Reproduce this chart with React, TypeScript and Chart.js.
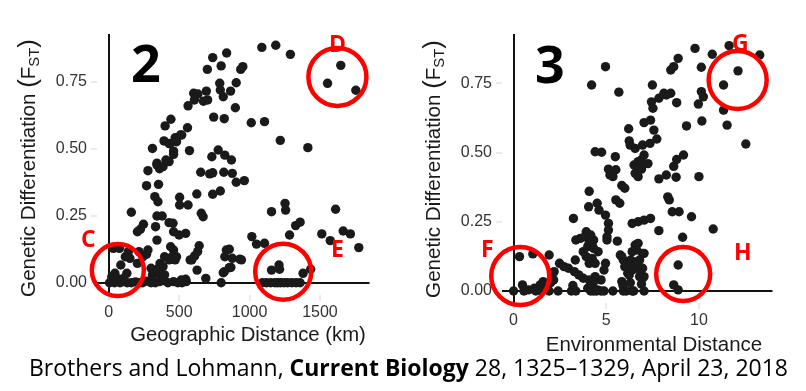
import React, { useEffect, useLayoutEffect, useRef } from "react";
import { Chart, registerables } from "chart.js";

Chart.register(...registerables);

// ---------- DATA ----------
// Panel 2: Geographic distance (km) vs Genetic differentiation (FST)
const geoDistance = [
  1087, 1186, 1290, 1648, 1554, 1755, 837, 738, 798, 700, 952, 937,
  788, 905, 792, 865, 813, 693, 603, 633, 608, 672, 702, 563,
  899, 745, 820, 1012, 1106, 441, 400, 559, 509, 471, 392, 434,
  460, 310, 573, 1218, 1414, 777, 732, 824, 871, 342, 406, 428,
  481, 518, 460,
  278, 342, 385, 428, 360, 653, 717, 738, 817, 877, 905, 963,
  268, 353, 327, 349, 503, 625, 738, 792, 503, 563, 160, 342,
  379, 657, 670, 428, 456, 246, 225, 203, 332, 460, 499, 546,
  342, 1156, 1252, 1256, 1611, 1016, 1049, 1106, 1284, 1327, 1359, 1513,
  1573, 1665, 1716, 1776,
  642, 631, 610, 589, 856, 824, 877, 931, 856, 813, 627, 689,
  798, 514, 546, 268, 242, 203, 300, 85, 117, 139, 150, 43,
  21, 128, 32, 75, 1156, 1209, 1213, 1380, 1434,
  1091, 1120, 1150, 1180, 1200, 1220, 1245, 1270, 1300, 1330, 1359,
  5, 20, 40, 60, 80, 100, 130, 160, 190, 220, 240, 270, 300, 330, 360, 390, 420, 460, 490, 520, 550,
  439, 460, 449, 428, 396, 364, 385, 353, 332, 310, 364, 396, 278, 214, 471, 481,
  820, 867, 835, 942, 578, 50, 100,
];
const geoFst = [
  0.878, 0.886, 0.852, 0.811, 0.744, 0.718, 0.857, 0.84, 0.809, 0.796, 0.806, 0.796,
  0.744, 0.746, 0.719, 0.715, 0.694, 0.715, 0.707, 0.704, 0.682, 0.677, 0.682, 0.66,
  0.653, 0.618, 0.612, 0.597, 0.601, 0.61, 0.585, 0.578, 0.551, 0.541, 0.529, 0.518,
  0.491, 0.501, 0.493, 0.531, 0.504, 0.495, 0.47, 0.476, 0.458, 0.446, 0.458, 0.52,
  0.526, 0.551, 0.479,
  0.418, 0.439, 0.433, 0.452, 0.425, 0.412, 0.406, 0.41, 0.412, 0.408, 0.375, 0.381,
  0.362, 0.367, 0.321, 0.302, 0.319, 0.331, 0.33, 0.342, 0.29, 0.29, 0.263, 0.249,
  0.249, 0.259, 0.246, 0.224, 0.222, 0.218, 0.2, 0.19, 0.209, 0.19, 0.178, 0.184,
  0.159, 0.265, 0.296, 0.271, 0.274, 0.172, 0.144, 0.147, 0.178, 0.213, 0.226, 0.182,
  0.157, 0.193, 0.182, 0.131,
  0.138, 0.116, 0.1, 0.085, 0.125, 0.097, 0.091, 0.088, 0.056, 0.037, 0.047, 0.016,
  0.0, 0.01, 0.013, 0.106, 0.097, 0.072, 0.054, 0.066, 0.097, 0.116, 0.091, 0.035,
  0.022, 0.035, 0.128, 0.128, 0.047, 0.066, 0.05, 0.035, 0.05,
  0, 0, 0, 0, 0, 0, 0, 0, 0, 0, 0,
  0, 0.005, 0, 0.008, 0, 0.004, 0, 0, 0.003, 0, 0, 0.006, 0, 0, 0.004, 0.008, 0, 0.004, 0, 0, 0.004,
  0.134, 0.122, 0.097, 0.085, 0.097, 0.072, 0.06, 0.054, 0.041, 0.029, 0.029, 0.029, 0.122, 0.116, 0.085, 0.097,
  0.041, 0.057, 0.122, 0.085, 0.085, 0.02, 0.015,
];

// Panel 3: Environmental distance vs Genetic differentiation (FST)
const envDistance = [
  4.96, 4.21, 5.68, 8.88, 8.64, 8.48, 9.79, 10.13, 10.72, 11.63, 13.28, 12.11,
  11.33, 10.13, 10.24, 9.97, 11.33, 10.16, 11.52, 9.33, 12.53, 7.49, 8.11, 7.84,
  8.48, 8.24, 7.44, 7.52, 8.8, 7.04, 7.39, 6.21, 7.57, 7.73, 7.36, 6.96,
  6.24, 6.29, 6.56, 4.4, 4.75, 5.49, 7.04, 6.88, 6.72, 8.8, 9.17,
  5.12, 5.52, 5.2, 5.36, 6.5, 6.8, 7.0, 7.25, 6.56, 6.72, 6.9, 7.84,
  8.24, 8.64, 8.77, 10.0, 4.08, 5.84, 6.0, 5.52, 5.73, 8.32, 8.4, 4.51,
  4.61, 4.05, 8.56, 8.93, 9.6, 4.96, 5.12, 3.23, 6.4, 6.72, 7.04, 7.39,
  7.84, 9.12, 10.77, 5.12, 3.92, 4.16, 4.32, 4.24, 4.0, 4.08, 4.32, 3.36,
  3.6, 3.84, 4.24, 5.04, 5.04, 5.6, 6.56, 6.64, 6.4, 6.96,
  5.76, 5.92, 6.24, 6.56, 6.8, 6.64, 6.4, 6.24, 6.88, 6.96, 6.08, 5.84,
  7.04, 6.32, 6.64, 6.96, 6.8, 7.04, 6.72, 5.84, 6.0, 6.16,
  4.96, 4.88, 4.72, 4.4, 4.08, 4.24, 4.53, 3.76, 3.92, 4.08, 4.4, 4.56,
  3.33, 2.48, 2.72, 2.96, 3.28, 3.52, 3.76, 2.13, 1.92, 1.04, 0.32, 0.48,
  0.8, 1.12, 1.44, 1.6, 0.0, 2.19, 2.16,
  0.56, 1.2, 1.52, 1.92, 2.4, 3.12, 3.36, 4.16, 4.32, 4.48, 4.72, 4.88,
  5.36, 5.92, 6.08, 6.4, 6.48, 7.04, 8.64, 8.88, 8.88,
  1.6, 2.0, 3.2, 4.0, 4.3, 5.9, 6.3, 6.9,
];
const envFst = [
  0.81, 0.744, 0.718, 0.84, 0.81, 0.798, 0.876, 0.808, 0.855, 0.886, 0.852, 0.795,
  0.744, 0.72, 0.701, 0.675, 0.653, 0.614, 0.599, 0.596, 0.531, 0.744, 0.714, 0.696,
  0.714, 0.708, 0.683, 0.66, 0.68, 0.608, 0.617, 0.586, 0.581, 0.549, 0.533, 0.527,
  0.542, 0.527, 0.515, 0.503, 0.501, 0.485, 0.491, 0.473, 0.467, 0.475, 0.491,
  0.44, 0.438, 0.419, 0.413, 0.455, 0.465, 0.458, 0.46, 0.425, 0.413, 0.44, 0.405,
  0.419, 0.45, 0.411, 0.413, 0.36, 0.381, 0.371, 0.329, 0.317, 0.34, 0.329, 0.317,
  0.292, 0.304, 0.286, 0.286, 0.268, 0.274, 0.244, 0.262, 0.244, 0.25, 0.256, 0.262,
  0.218, 0.194, 0.224, 0.22, 0.214, 0.202, 0.184, 0.166, 0.16, 0.172, 0.154, 0.184,
  0.19, 0.196, 0.118, 0.196, 0.184, 0.18, 0.166, 0.148, 0.142, 0.136,
  0.13, 0.112, 0.1, 0.094, 0.112, 0.082, 0.076, 0.058, 0.058, 0.046, 0.088, 0.034,
  0.136, 0.112, 0.106, 0.082, 0.052, 0.052, 0.172, 0.124, 0.088, 0.064,
  0.1, 0.076, 0.04, 0.052, 0.04, 0.004, 0.004, 0.142, 0.124, 0.1, 0.1, 0.142,
  0.112, 0.1, 0.088, 0.082, 0.07, 0.058, 0.046, 0.066, 0.13, 0.134, 0.124, 0.022,
  0.004, 0.01, 0.022, 0.034, 0.0, 0.07, 0.04,
  0, 0, 0, 0, 0, 0, 0, 0, 0, 0, 0, 0,
  0, 0, 0, 0, 0, 0, 0.022, 0.004, 0.094,
  0.012, 0.03, 0.02, 0.01, 0.03, 0.02, 0.03, 0.025,
];

// Highlighted groups (circle centres) and their labels
const geoCircleLabels = ["C", "D", "E"];
const geoCircleX = [64, 1624, 1239];
const geoCircleY = [0.047, 0.768, 0.041];
const envCircleLabels = ["F", "G", "H"];
const envCircleX = [0.36, 12.09, 9.15];
const envCircleY = [0.054, 0.762, 0.061];

// Tick values
const fstTicks = [0, 0.25, 0.5, 0.75];
const geoTicks = [0, 500, 1000, 1500];
const envTicks = [0, 5, 10];

const panelNumbers = ["2", "3"];
const yTitleParts = ["Genetic Differentiation ", "(", "F", "ST", ")"];
const geoXTitle = "Geographic Distance (km)";
const envXTitle = "Environmental Distance";

// ---------- STYLE ----------
const SANS = "'Liberation Sans', Arial, Helvetica, sans-serif";
const tickFont = { family: SANS, size: 16 };
const TICK_COLOR = "#333333";

const overlayPlugin = {
  id: "overlay",
  afterDraw(chart: any, _args: any, o: any) {
    const ctx = chart.ctx;
    ctx.save();
    ctx.textBaseline = "alphabetic";
    // panel number
    ctx.textAlign = "left";
    ctx.fillStyle = "#000";
    ctx.font = "700 52px 'Open Sans', 'DejaVu Sans', sans-serif";
    ctx.fillText(o.big, o.bigX, o.bigY);
    // group letters
    ctx.fillStyle = "#ff0000";
    ctx.font = "700 23px 'Open Sans', 'DejaVu Sans', sans-serif";
    o.letters.forEach((l: any, i: number) => ctx.fillText(o.letterText[i], l[0], l[1]));
    // x title
    ctx.fillStyle = "#1a1a1a";
    ctx.textAlign = "center";
    ctx.font = `${o.xTitleSize}px ${SANS}`;
    ctx.fillText(o.xTitle, o.xTitleX, o.xTitleY);
    // y title (rotated, with subscript)
    ctx.textAlign = "left";
    const parts = [
      { t: yTitleParts[0], s: o.yTitleSize, dy: 0 },
      { t: yTitleParts[1], s: o.yTitleSize * 1.25, dy: 1 },
      { t: yTitleParts[2], s: o.yTitleSize, dy: 0 },
      { t: yTitleParts[3], s: o.yTitleSize * 0.72, dy: 4 },
      { t: yTitleParts[4], s: o.yTitleSize * 1.25, dy: 1 },
    ];
    let total = 0;
    const widths = parts.map((p) => {
      ctx.font = `${p.s}px ${SANS}`;
      const w = ctx.measureText(p.t).width;
      total += w;
      return w;
    });
    ctx.translate(o.yTitleX, o.yTitleY);
    ctx.rotate(-Math.PI / 2);
    let x = -total / 2;
    parts.forEach((p, i) => {
      ctx.font = `${p.s}px ${SANS}`;
      ctx.fillText(p.t, x, p.dy);
      x += widths[i];
    });
    ctx.restore();
  },
};

function zeroGrid(tickLen: number) {
  return {
    color: (c: any) => (c.tick && c.tick.value === 0 ? "#111111" : "rgba(0,0,0,0)"),
    lineWidth: 2,
    tickLength: tickLen,
    tickColor: "#d6d6d6",
    tickWidth: 1,
  };
}

function makeConfig(p: any) {
  return {
    type: "scatter",
    data: {
      datasets: [
        {
          label: "groups",
          data: p.cx.map((v: number, i: number) => ({ x: v, y: p.cy[i] })),
          pointRadius: p.circleRadius,
          pointBorderWidth: 4.5,
          borderColor: "#ff0000",
          backgroundColor: "rgba(0,0,0,0)",
          pointBackgroundColor: "rgba(0,0,0,0)",
          pointBorderColor: "#ff0000",
          clip: false,
          order: 0,
        },
        {
          label: "pairs",
          data: p.xs.map((v: number, i: number) => ({ x: v, y: p.ys[i] })),
          pointRadius: 4.7,
          pointBorderWidth: 0,
          pointBackgroundColor: "#1a1a1a",
          backgroundColor: "#1a1a1a",
          order: 1,
        },
      ],
    },
    options: {
      responsive: false,
      maintainAspectRatio: false,
      animation: false,
      devicePixelRatio: 1,
      events: [],
      layout: { padding: { top: 34, right: p.padRight, left: 0, bottom: 0 } },
      plugins: {
        legend: { display: false },
        tooltip: { enabled: false },
        overlay: p.overlay,
      },
      scales: {
        x: {
          type: "linear",
          min: p.xMin,
          max: p.xMax,
          afterBuildTicks: (s: any) => {
            s.ticks = p.xTicks.map((v: number) => ({ value: v }));
          },
          afterFit: (s: any) => {
            s.height = p.xAxisHeight;
          },
          grid: zeroGrid(6),
          border: { display: false },
          ticks: {
            color: TICK_COLOR,
            font: tickFont,
            padding: 2,
            maxRotation: 0,
            autoSkip: false,
            callback: (v: any) => String(v),
          },
        },
        y: {
          type: "linear",
          min: p.yMin,
          max: p.yMax,
          afterBuildTicks: (s: any) => {
            s.ticks = fstTicks.map((v: number) => ({ value: v }));
          },
          afterFit: (s: any) => {
            s.width = p.yAxisWidth;
          },
          grid: zeroGrid(6),
          border: { display: false },
          ticks: {
            color: TICK_COLOR,
            font: tickFont,
            padding: 4,
            autoSkip: false,
            callback: (v: any) => Number(v).toFixed(2),
          },
        },
      },
    },
    plugins: [overlayPlugin],
  };
}

export default function App() {
  const leftRef = useRef<HTMLCanvasElement>(null);
  const rightRef = useRef<HTMLCanvasElement>(null);
  const capRef = useRef<HTMLSpanElement>(null);

  useLayoutEffect(() => {
    const el = capRef.current;
    if (el) {
      el.style.transform = "none";
      const w = el.getBoundingClientRect().width;
      if (w > 0) el.style.transform = `scaleX(${759 / w})`;
    }
  }, []);

  useEffect(() => {
    const left = new Chart(
      leftRef.current as HTMLCanvasElement,
      makeConfig({
        xs: geoDistance,
        ys: geoFst,
        cx: geoCircleX,
        cy: geoCircleY,
        circleRadius: [26, 29, 28],
        xMin: -84,
        xMax: 1852,
        yMin: -0.0459,
        yMax: 0.928,
        xTicks: geoTicks,
        padRight: 5,
        xAxisHeight: 65,
        yAxisWidth: 97,
        overlay: {
          big: panelNumbers[0],
          bigX: 131,
          bigY: 82,
          letterText: geoCircleLabels,
          letters: [
            [81, 247],
            [329, 52],
            [331, 257],
          ],
          xTitle: geoXTitle,
          xTitleX: 248,
          xTitleY: 341,
          xTitleSize: 20.3,
          yTitleX: 35,
          yTitleY: 168,
          yTitleSize: 20.6,
        },
      }) as any
    );
    const right = new Chart(
      rightRef.current as HTMLCanvasElement,
      makeConfig({
        xs: envDistance,
        ys: envFst,
        cx: envCircleX,
        cy: envCircleY,
        circleRadius: [29, 29, 27],
        xMin: -0.624,
        xMax: 13.97,
        yMin: -0.0433,
        yMax: 0.928,
        xTicks: envTicks,
        padRight: 0,
        xAxisHeight: 57,
        yAxisWidth: 99,
        overlay: {
          big: panelNumbers[1],
          bigX: 535 - 403,
          bigY: 83,
          letterText: envCircleLabels,
          letters: [
            [481 - 403, 257],
            [732 - 403, 51],
            [734 - 403, 260],
          ],
          xTitle: envXTitle,
          xTitleX: 654 - 403,
          xTitleY: 351,
          xTitleSize: 20.5,
          yTitleX: 440 - 403,
          yTitleY: 169,
          yTitleSize: 20.6,
        },
      }) as any
    );
    return () => {
      left.destroy();
      right.destroy();
    };
  }, []);

  return (
    <div
      style={{
        position: "fixed",
        left: 0,
        top: 0,
        width: 806,
        height: 391,
        background: "#ffffff",
        overflow: "hidden",
      }}
    >
      <canvas
        ref={leftRef}
        width={403}
        height={360}
        style={{ position: "absolute", left: 0, top: 0, width: 403, height: 360 }}
      />
      <canvas
        ref={rightRef}
        width={403}
        height={360}
        style={{ position: "absolute", left: 403, top: 0, width: 403, height: 360 }}
      />
      <div style={{ position: "absolute", left: 29, top: 356, whiteSpace: "nowrap" }}>
        <span
          ref={capRef}
          style={{
            display: "inline-block",
            transformOrigin: "0 0",
            fontFamily: "'Open Sans', 'Noto Sans', sans-serif",
            fontSize: 23,
            lineHeight: "23px",
            color: "#000",
          }}
        >
          Brothers and Lohmann, <b>Current Biology</b> 28, 1325–1329, April 23, 2018
        </span>
      </div>
    </div>
  );
}
